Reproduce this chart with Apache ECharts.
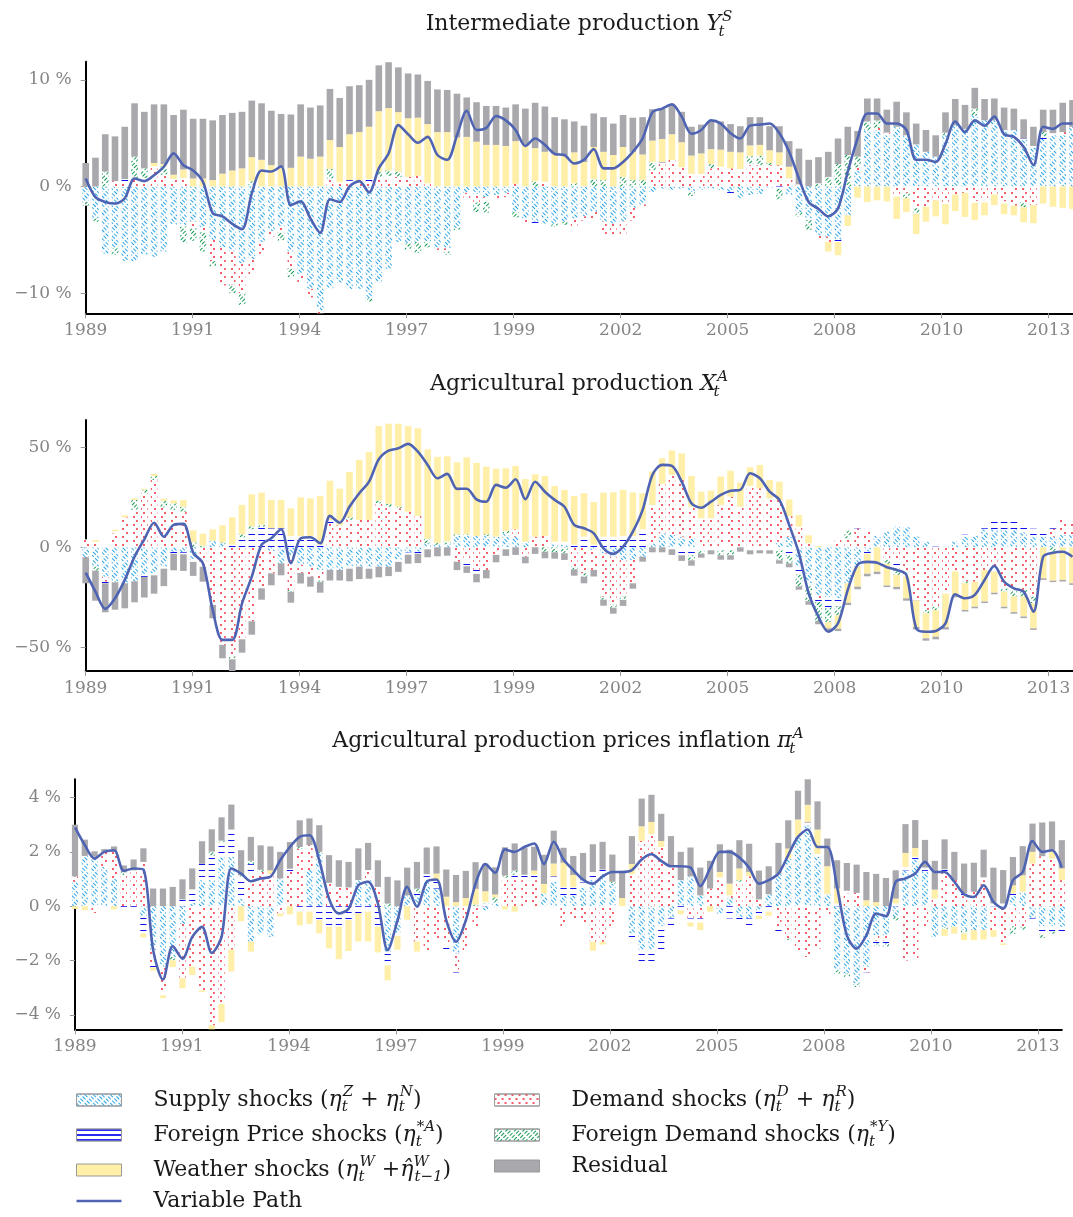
<!DOCTYPE html>
<html>
<head>
<meta charset="utf-8">
<script src="https://cdn.jsdelivr.net/npm/echarts@6/dist/echarts.min.js"></script>
<style>html,body{margin:0;padding:0;background:#fff}#c{width:1073px;height:1217px}</style>
</head>
<body>
<div id="c"></div>
<script>
// ---------- DATA (quarterly, 1989Q1 .. 2014Q2, index 0..101) ----------
const firstYear = 1989;
const quarters = [];
for (let i = 0; i < 102; i++) quarters.push((firstYear + Math.floor(i / 4)) + 'Q' + (i % 4 + 1));
const xTickLabels = ['1989','1991','1994','1997','1999','2002','2005','2008','2010','2013'];
const yTicks1 = [-10, 0, 10];
const yTicks2 = [-50, 0, 50];
const yTicks3 = [-4, -2, 0, 2, 4];

// Panel 1: Intermediate production Y_t^S (%)
const supplyY = [-1.5,-3.0,-6.3,-5.8,-7.0,-7.0,-6.4,-6.6,-6.1,-3.6,
 -3.6,-3.3,-3.8,-5.0,-5.7,-6.1,-7.2,-6.8,-5.2,-4.2,
 -3.8,-6.1,-8.2,-9.6,-11.6,-9.6,-9.0,-9.6,-9.6,-10.5,
 -9.0,-7.7,-5.2,-5.35,-5.2,-5.2,-5.8,-5.8,-3.9,-0.6,
 -0.7,-1.0,-0.8,-0.6,-2.4,-3.0,-3.3,-3.5,-3.5,-3.3,
 -3.0,-2.8,-2.4,-3.3,-3.5,-3.3,-2.0,-1.7,-0.5,-0.2,
 -0.3,-0.2,-0.5,-0.3,-0.2,-0.3,-0.5,-1.1,-0.8,-0.7,
 -0.1,0,-0.8,-2.4,-3.0,-4.6,-4.7,-5.0,-2.7,1.5,
 5.3,5.3,4.8,5.6,4.8,3.95,3.25,2.8,4.8,5.75,
 5.4,6.7,6.2,6.2,5.3,5.3,4.35,3.65,4.45,4.8,
 4.8,5.6];
const demandY = [0,0,0,0.5,0.4,0.8,0.5,1.9,1.1,0.7,
 0.8,-0.6,-0.5,-2.0,-3.6,-3.1,-2.8,-1.6,-1.1,-0.5,
 -0.5,-1.6,-0.8,-0.8,-0.3,0.6,0.4,0.4,0.5,0.5,
 0.8,0.8,0.9,0.9,1.0,0.3,-0.3,-0.3,0,-0.6,
 -0.8,-0.3,-0.4,-0.4,0.25,-0.4,0,0.45,0,0,
 -0.8,-0.4,-0.6,-1.25,-1.1,-1.25,-1.2,-0.2,1.5,2.15,
 2.5,1.8,1.2,1.2,1.7,1.85,1.7,1.5,2.0,2.0,
 2.0,2.0,0.75,0.2,0,-0.3,-0.5,0,0,0.3,
 0,0.2,0.25,-0.75,-0.6,-2.05,-1.9,-1.3,-1.45,-0.75,
 -0.6,-1.35,-1.3,-0.75,-1.4,-1.8,-1.45,-1.75,0,0,
 0.3,0];
const foreignPriceY = [0,0,0,0,0.3,0,0.3,0,0,-0.15,
 -0.15,0,0,0,-0.15,0,0,0,0,0,
 0,0,0,0,0,0.15,0,0.2,0,0.2,
 0,0.2,0,0,0,0,0,0,0,-0.15,
 0,-0.15,0,0,0,0,-0.2,-0.2,0,0,
 0,0,0,0,0,0,0,0,0,0.1,
 0,0,0,0,0,0,-0.15,0.15,0.15,0,
 0,-0.2,-0.2,0,-0.15,0,0,-0.2,0,0,
 0,0,0,-0.2,0,0,0,0,-0.2,0,
 0,-0.2,-0.2,0,-0.2,0,0.15,0.15,0.15,0.2,
 0,0];
const foreignDemandY = [-0.3,-0.3,1.4,-0.6,0,2.0,0.9,0,0.8,0,
 -1.5,-1.2,-1.8,-0.5,0,-0.8,-1.1,0.5,0,0,
 -0.8,-0.8,0,0,0,0.9,0,0,0,-0.3,
 0.6,0.5,0.5,-0.6,-1.0,-0.5,0,-0.3,-0.2,0,
 -0.9,-1.0,0,0,-0.5,0,0.5,0,-0.3,-0.3,
 0.3,0,0.7,0.6,0,0.9,0.6,0.6,0.8,0,
 0,0,-0.4,0,0.4,0,0,0,0.7,0.9,
 0.2,-1.0,0,-0.4,-0.9,0.3,0.9,2.1,2.95,1.0,
 0.8,0.7,0,0,-0.5,-0.5,0,0,0.25,0,
 0,0.6,0,0,0,0,-0.5,0,0.5,0,
 0,0];
const weatherY = [0,0,0,0,0,0,0,0.3,0.2,0.4,
 0.8,0.75,0.75,0.6,1.2,1.5,1.7,2.25,2.5,2.0,
 1.8,1.75,2.8,2.6,2.8,2.7,3.3,4.3,4.6,4.9,
 5.66,5.85,5.57,5.5,5.45,5.55,5.1,5.1,4.6,4.65,
 4.2,3.9,3.9,3.8,4.0,3.9,3.1,2.8,3.1,2.95,
 2.9,2.3,3.0,2.65,2.95,2.8,2.65,2.4,2.0,2.2,
 2.4,2.35,1.7,1.9,1.4,1.6,1.55,1.55,1.0,1.0,
 1.2,1.2,1.1,0,0,0,-0.9,-1.25,-1.0,-1.05,
 -1.45,-1.3,-1.4,-2.1,-1.3,-1.9,-1.4,-1.5,-1.9,-1.55,
 -2.25,-1.6,-1.2,-1.0,-1.0,-0.9,-1.4,-1.7,-1.6,-1.9,
 -2.0,-2.1];
const residualY = [2.2,2.7,3.5,4.2,4.9,5.0,5.3,5.5,5.6,5.6,
 5.6,5.6,5.6,5.6,5.5,5.4,5.3,5.3,5.3,5.1,
 5.0,5.0,4.9,4.8,4.8,4.8,4.6,4.5,4.4,4.4,
 4.3,4.3,4.2,4.2,4.05,4.05,4.0,3.95,4.1,3.7,
 3.7,3.65,3.65,3.6,3.45,3.4,4.25,4.25,3.4,3.35,
 2.9,3.4,3.15,3.25,2.95,3.0,3.2,3.5,2.95,2.85,
 2.7,2.85,2.7,2.7,2.6,2.65,2.6,2.45,2.65,2.6,
 2.25,2.45,2.4,3.35,2.5,2.45,2.35,2.4,2.65,2.4,
 2.15,2.05,2.15,2.35,2.15,1.95,2.05,2.0,1.9,2.45,
 2.25,1.95,2.0,2.05,2.1,2.0,1.8,1.8,2.1,2.2,
 2.75,2.5];
const pathY = [0.75,-1.0,-1.45,-1.6,-1.1,0.75,0.5,1.05,1.85,3.1,
 2.0,1.5,0.45,-2.5,-2.8,-3.5,-4.0,-0.65,1.5,1.4,
 1.9,-1.75,-1.4,-3.0,-4.35,-1.2,-1.45,0,0.5,-0.55,
 1.7,3.1,5.75,4.9,4.1,4.65,2.95,2.5,4.8,7.1,
 5.3,5.5,6.6,6.2,5.3,3.8,4.5,3.9,3.05,2.95,
 2.15,2.5,3.5,1.7,1.7,2.3,3.25,4.5,6.95,7.3,
 7.7,6.55,4.95,5.3,6.2,5.9,5.0,4.5,5.7,5.8,
 5.9,5.0,3.25,0.75,-1.45,-2.1,-2.8,-2.05,1.4,4.5,
 6.85,6.85,5.9,5.9,5.3,2.5,2.5,2.3,4.0,6.1,
 5.1,6.2,5.7,6.55,4.9,4.65,3.7,2.0,5.6,5.4,
 5.9,5.9];

// Panel 2: Agricultural production X_t^A (%)
const supplyX = [-5,-9.7,-14.7,-17,-18,-17,-13.8,-13,-9.7,-2.2,
 -2.5,-6.3,0,3.3,2,0,0,0,0,-2,
 -8,-4.7,-8.8,-9.7,-11.3,-11.3,-11.3,-9.7,-9.7,-9.7,
 -9.7,-9.7,-6.3,-2.7,-2.2,2,1.2,1.5,5.7,5.7,
 5.7,5.7,5.3,7,5.3,2.8,0,0,1.5,1.5,
 0,0,-1.3,-3,-4.7,-6.3,-6.3,-4.7,2,7,
 6.2,5.3,4.5,0,0,0,0,0,0,0,
 0,2.8,5.3,-9.7,-18,-23.8,-25,-25.5,-18,-9.7,
 -2.2,5.7,7.8,10.3,10,5.3,2.8,0.5,0.5,2.8,
 5.3,5.7,9,9,9,9,7.5,5.3,5.3,5.3,
 6.2,6.2];
const demandX = [4,2.8,-2.5,7,15,18.7,27,33.7,20,18.7,
 17.8,0,-9.7,-28.8,-48.8,-54.7,-46,-37,-20.5,-11,
 0,-16.7,-4,-5,-5.3,12,11,13.7,13.7,13.7,
 22,20.3,19.5,17.8,15.7,0,0,0,-7.2,-6.5,
 -11.3,-11.3,-3.8,0,3.7,-4.7,5.3,5.7,0,0,
 -9.7,-13,-10,-21.7,-24,-18.3,-11.7,0,18.7,24.7,
 30,28.3,15.8,14.5,14.5,21.2,25.3,20.3,30.7,29.5,
 24.5,20.8,10.3,10.3,2,-2,0,4.5,4.5,9.5,
 7.8,0,-6.3,-6.3,-14.7,-25.5,-31.3,-29.7,-22.2,-12,
 -17.2,-17.2,-11.3,-12.2,-20.5,-21.3,-21.3,-24.7,0,4,
 8.3,7.5];
const foreignPriceX = [0,0,-0.8,1.0,0,0,-1,-1,-1,-1,
 -1,-1,0,0,0,1.3,5,9,10,9.5,
 9.5,5.7,5.7,5.7,1.3,1.5,0,-1,0,-1,
 0,0,-1,-1,-1,-1,0,0,0,-3,
 -2,0,0,-1,0,0,0,0,1.3,1.3,
 1.3,5.3,1.3,5.3,5.3,5.7,5.7,9,0.5,0,
 -1,-4,-4,-1.5,-1.5,-1.5,-1.5,0,-1.5,-1.5,
 -1.5,-1.5,-4,-4,-1.5,-1.5,-5,-4,0,0.5,
 -1,0,0,-4,0,-1,0,1.3,-1,0,
 1,0,0.5,4,4,4,4,4,3.7,1,
 0,0];
const foreignDemandX = [0,-2,0,-0.5,0,5,1.7,2,3.3,3.3,
 2.5,2.5,0.8,0,0.5,-1.3,1.5,1.5,1.3,0,
 0,-0.8,0,0,-0.8,0,0,1.3,0,0,
 1.3,1.5,0.8,0,0,2.3,1.0,1.5,0.8,0.8,
 0,0.8,0,1.2,0,0,0,-2.2,-2.5,-3,
 -1.3,-1.7,0,-1.5,-1.5,-1.7,0,0,0,0,
 0,0,-2.5,-1.7,0,-2.5,-2.5,0,0,0,
 0,-5,-4,-5.8,-7.5,-9.5,-7.5,-4.5,3.8,0,
 0,0,-2,-3.5,0,0,-1.7,-1.7,0,0,
 -0.8,0,0,0,-1.7,-3.3,-3.3,-3.3,0,-2.2,
 0,0];
const weatherX = [0,0.8,0,0.8,1,0.8,0.5,1,1,1.5,
 3.3,6,6,5.7,8.5,13.7,14.7,16,16,14.2,
 14.2,13.8,19.3,18.8,24.3,19.8,18.3,22.7,30,34,
 37.3,40,41.5,42.8,43.8,44.7,43,42.5,36,38.5,
 36.5,33.8,34,31.3,31.7,31.3,31.2,30,27.8,25.8,
 24.3,21.7,21.3,22,22.2,23,21.7,18,16.7,12.8,
 12.2,13.3,15.3,13.3,13.8,14.2,13,12,9.3,11.7,
 9.2,9.2,8.3,5.8,4,0.7,-3,-6.7,-9.7,-10,
 -10,-12.2,-10.8,-6,-10.8,-13.3,-12.5,-13.3,-16.7,-12,
 -13.3,-12.5,-15.8,-10.5,-7.5,-7.8,-10,-12.5,-15.5,-14.5,
 -16.3,-18];
const residualX = [-13,-15,-14.5,-13.7,-12.5,-10.5,-10.3,-9.2,-8.7,-8.3,
 -8.3,-7,-7.5,-6.7,-6.7,-6.2,-6.7,-6.7,-5.7,-6,
 -6,-5.5,-5.3,-5,-5.3,-5.3,-5.3,-6.3,-6.2,-5,
 -5.3,-4.7,-5,-4.5,-4.7,-4,-4.5,-4.2,-4.2,-3.3,
 -4.2,-4.2,-3.7,-3.3,-3.8,-3.3,-3.3,-3.3,-3.2,-3.3,
 -3.2,-3.3,-3.3,-3,-3,-3,-2.7,-2.5,-2.5,-2.5,
 -2.8,-2.8,-2.7,-2,-2,-2.2,-2.2,-2.2,-2,-1.5,
 -1.7,-1.7,-2,-1.7,-1.7,-1.7,-1.5,-1.2,-1.2,-1.3,
 -1.3,-1.2,-0.8,-1.2,-1.2,-1.3,-1.2,-1.3,-1.2,-1,
 -0.8,-0.8,-0.8,-0.8,-0.8,-0.8,-0.8,-0.8,-0.8,-0.7,
 -0.8,-0.8];
const pathX = [-12.7,-22.2,-30.8,-25.5,-16.3,-4.7,4,12.3,5.3,11.2,
 11.7,-2.7,-8,-31.3,-46.3,-46.3,-28,-14.7,1.2,4.5,
 9,-8,4.5,5,2,15.7,12.3,20.3,27,32.8,
 44,48.3,49.5,51.7,47.8,41.2,34.5,36.7,29.2,29.3,
 24,22.8,31.2,29.8,34,24,32.8,27.8,23.7,20.3,
 11.2,9.5,7,-0.5,-3.3,0.3,7.8,18.7,36.2,41.2,
 40.7,32.8,22,19.8,22.8,26.2,28.3,28.7,37,34.5,
 27.8,23.7,11.2,-3,-23,-34.7,-42.2,-38,-21.3,-8.8,
 -7.3,-7.7,-10,-11.3,-13.8,-40.5,-42.2,-41.8,-38,-23.5,
 -25.5,-23.8,-16.3,-9.3,-17.2,-20.5,-22.2,-32.2,-4.7,-2.7,
 -2.2,-4.7];

// Panel 3: Agricultural production prices inflation pi_t^A (%)
const supplyPi = [0.9,1.85,1.82,1.45,1.0,0,0,-0.4,-1.6,-2.23,
 -1.87,-0.65,0.12,0.96,0.96,1.8,1.82,0.28,-1.3,-1.0,
 -1.13,1.02,0,0,1.33,1.94,0,0,0,0.96,
 0.96,0,-1.68,-1.0,0.4,0.4,0.96,0.65,0,-1.74,
 0,0,-0.15,0.15,0,0,0,0,0.47,0.9,
 0.4,0.4,0.68,0.96,1.2,0.83,0,-1.0,-1.6,-1.6,
 -0.74,-0.45,0.96,1.1,0.4,0,-0.27,0.3,-0.4,-0.45,
 -0.15,0.44,1.2,1.75,2.55,2.98,1.82,0.44,-2.36,-2.48,
 -2.85,-2.23,-1.07,-1.07,-0.4,1.32,1.72,1.3,-1.13,-0.76,
 -0.76,-0.88,-0.88,-0.88,0,0,0.37,0.53,-0.45,-0.74,
 -0.74,-0.76];
const demandPi = [0.2,0,-0.25,0.55,1.0,1.15,1.32,1.63,-0.5,-0.9,
 0,-2.0,-2.23,-3.1,-4.38,-3.6,-1.6,0,1.2,1.26,
 1.2,-0.27,1.26,2.12,0.92,0,0.86,0.71,0.69,0,
 0.37,0.71,0,0,0,-1.3,-1.68,-1.2,-1.4,-0.6,
 -1.68,-0.76,0,0,1.05,0.96,0.96,0.96,0,0,
 -0.76,-0.5,-0.64,-1.31,-1.31,-0.76,0,1.18,2.4,2.65,
 2.18,1.51,0,-0.45,-0.45,0.65,0.96,0.1,0.9,1.1,
 0.25,0,-0.74,-1.19,-1.62,-1.87,-1.56,-0.33,0,0.47,
 0.49,-0.22,-0.2,-0.2,0,-2.0,-1.93,-0.74,0.28,1.26,
 0.96,0.37,0.53,0.96,-0.88,-1.37,-0.74,-0.76,1.57,1.84,
 1.75,0.96];
const foreignPricePi = [0,0,0,0,0,-0.2,-0.2,-0.6,-0.15,-0.15,
 0,0.25,0.5,0.6,0.9,0.55,1.0,0.8,0.35,0,
 0,0,0.12,-0.2,-0.2,-0.5,-0.75,-0.75,-0.5,-0.25,
 -0.2,-0.75,-0.5,-0.1,0,0.1,0.22,0.3,-0.2,-0.1,
 0,0,0.1,0,0,0.2,0.2,0.2,0,0.2,
 0.3,0.3,0.2,0.3,0.15,0,0,-0.3,-0.55,-0.55,
 -0.85,-0.3,-0.15,-0.15,-0.15,0,0.1,-0.45,-0.1,-0.3,
 -0.2,-0.2,-0.3,0,0,0.1,0.1,0,0.1,0.1,
 0,-0.1,-0.1,-0.1,0.1,0.12,0.1,0.12,0,0.1,
 0,0.1,0,0.1,0.1,0.1,0.1,0,-0.1,-0.3,
 -0.2,-0.2];
const foreignDemandPi = [0,0,0,0,0,0.1,0,0,0,0,
 -0.12,0,0,0,0.15,0.06,0,0.06,0.12,0.08,
 0,0,0,0.06,0,0.06,0,0,0,0,
 0,0,0.1,0,0,0.15,0,0,0,0,
 0,0.06,0.06,0.18,0.08,0.15,0,0,0,0,
 0,0,0.08,0,0,0.07,0,0,0,0,
 0,0,0,0,0,0,0,0,0.06,0,
 0,0,0,-0.06,0,0,0,0,-0.12,-0.12,
 -0.12,0,-0.1,-0.12,-0.12,0,0,0,0,-0.08,
 0,-0.12,0,0,0,0,-0.27,-0.12,0,-0.12,
 -0.1,0];
const weatherPi = [-0.1,-0.15,0,0,-0.12,0,0,-0.15,-0.12,-0.1,
 -0.25,-0.37,-0.3,-0.06,-0.15,-0.67,-0.8,-0.55,-0.37,0,
 0.12,-0.1,-0.3,-0.5,-0.45,-0.5,-0.8,-1.2,-1.15,-1.05,
 -1.1,-0.95,-0.55,-0.5,-0.5,-0.37,0,0.25,0.35,0.15,
 0.3,0.58,0.39,0.1,-0.12,-0.2,0,0.15,0.35,0.47,
 0.9,0.45,0,-0.33,-0.1,0,0.3,0.37,0.54,0.45,
 0.22,0,-0.15,-0.15,-0.28,-0.2,0.2,0.43,0.43,0.16,
 -0.12,-0.15,0,0.37,0.64,0.65,0.9,1.03,0.55,0,
 0,0.22,0.15,0,0.18,0.52,0.32,0,0.33,-0.25,
 -0.25,-0.25,-0.37,-0.35,-0.25,-0.06,0.3,0.61,0.43,0,
 0.33,0.43];
const residualPi = [1.9,0.6,0.2,0.1,0.2,0.25,0.4,0.5,0.65,0.65,
 0.71,0.74,0.77,0.83,0.82,0.86,0.92,0.92,0.88,0.9,
 0.88,0.98,0.98,0.98,0.98,0.98,1.02,0.98,0.94,1.17,
 1.0,0.98,0.98,0.95,1.02,0.98,0.98,1.0,1.0,1.0,
 1.0,0.98,1.02,1.0,1.04,1.0,1.0,0.88,1.07,1.21,
 0.55,0.7,1.0,1.02,1.02,1.0,1.0,1.03,1.02,1.0,
 1.0,1.07,1.04,1.06,1.02,1.02,1.02,1.25,1.04,1.04,
 1.06,1.03,1.13,1.04,1.06,1.04,1.04,1.02,1.04,1.02,
 1.04,1.04,1.04,1.04,1.04,1.06,1.03,1.02,1.06,1.1,
 1.04,1.1,1.07,1.02,1.32,1.23,1.04,1.07,1.04,1.24,
 1.04,1.04];
const pathPi = [2.9,2.25,1.75,2.0,2.06,1.3,1.39,1.35,-1.62,-2.7,
 -1.47,-1.93,-1.13,-0.76,-1.72,-1.13,1.39,1.2,0.92,1.02,
 1.08,1.69,2.18,2.55,2.61,1.69,0.28,-0.27,-0.09,0.77,
 0.9,0.1,-1.62,-0.54,0.71,-0.02,0.9,0.98,-0.52,-1.31,
 -0.52,0.83,1.55,1.23,2.09,2.0,2.18,2.31,1.55,2.37,
 1.72,1.33,0.98,0.83,1.1,1.26,1.26,1.33,1.72,1.91,
 1.67,1.47,1.47,1.42,0.74,1.39,2.0,2.0,1.79,1.42,
 0.83,0.96,1.2,1.88,2.55,2.82,2.18,2.18,0.71,-1.07,
 -1.56,-1.07,-0.27,-0.37,0.9,1.02,1.2,1.63,1.26,1.26,
 0.9,0.44,0.34,0.77,0.16,-0.09,0.96,1.26,2.4,2.0,
 2.06,1.42];

// ---------- STYLE ----------
const SERIF = "'DejaVu Serif', serif";
const TXT = '#1a1a1a';
const NAMES = ['Supply shocks','Demand shocks','Foreign Price shocks','Foreign Demand shocks','Weather shocks','Residual','Variable Path'];
const TICK_STEP = 1000 / (365.25 / 4);   // ticks every 1000 days, in quarter units
const xTickValues = xTickLabels.map((_, k) => k * TICK_STEP);
const N_Q = quarters.length;

const RICH = {
  n:   {fontFamily: SERIF, fontSize: 22, lineHeight: 30, color: TXT},
  m:   {fontFamily: SERIF, fontSize: 22, lineHeight: 30, color: TXT, fontStyle: 'italic'},
  sup: {fontFamily: SERIF, fontSize: 15, lineHeight: 15, color: TXT, fontStyle: 'italic', verticalAlign: 'top'},
  sub: {fontFamily: SERIF, fontSize: 15, lineHeight: 15, color: TXT, fontStyle: 'italic', verticalAlign: 'bottom'},
  sup0:{fontFamily: SERIF, fontSize: 15, lineHeight: 15, color: TXT, fontStyle: 'italic', verticalAlign: 'top', width: 1},
  sub0:{fontFamily: SERIF, fontSize: 15, lineHeight: 15, color: TXT, fontStyle: 'italic', verticalAlign: 'bottom', width: 1},
  sp:  {fontFamily: SERIF, fontSize: 22, lineHeight: 30, width: 27}
};
const LEGEND_TEXT = {
  'Supply shocks': '{sp| }{n|Supply shocks (}{m|η}{sub0|t}{sup|Z}{n| + }{m|η}{sub0|t}{sup|N}{n|)}',
  'Demand shocks': '{sp| }{n|Demand shocks (}{m|η}{sub0|t}{sup|D}{n| + }{m|η}{sub0|t}{sup|R}{n|)}',
  'Foreign Price shocks': '{sp| }{n|Foreign Price shocks (}{m|η}{sub0|t}{sup|*A}{n|)}',
  'Foreign Demand shocks': '{sp| }{n|Foreign Demand shocks (}{m|η}{sub0|t}{sup|*Y}{n|)}',
  'Weather shocks': '{sp| }{n|Weather shocks (}{m|η}{sub0|t}{sup|W}{n| +}{m|η̂}{sup0|W}{sub|t−1}{n|)}',
  'Residual': '{sp| }{n|Residual}',
  'Variable Path': '{sp| }{n|Variable Path}'
};
const TITLES = [
  '{n|Intermediate production }{m|Y}{sub0|t}{sup|S}',
  '{n|Agricultural production }{m|X}{sub0|t}{sup|A}',
  '{n|Agricultural production prices inflation }{m|π}{sub0|t}{sup|A}'
];

const DECAL = {
  supply: {symbol: 'rect', symbolSize: 1, dashArrayX: [4, 2], dashArrayY: [1, 2], rotation: Math.PI / 4, color: '#2aa4e6'},
  demand: {symbol: 'circle', symbolSize: 1, dashArrayX: [[2, 5], [0, 3, 2, 2]], dashArrayY: [2, 2], rotation: 0, color: '#f0283a'},
  fprice: {symbol: 'rect', symbolSize: 1, dashArrayX: [1, 0], dashArrayY: [1, 5], rotation: 0, color: '#1010ee'},
  fpriceLegend: {symbol: 'rect', symbolSize: 1, dashArrayX: [1, 0], dashArrayY: [2, 3], rotation: 0, color: '#2a2af5'},
  fdemand:{symbol: 'rect', symbolSize: 1, dashArrayX: [4, 2], dashArrayY: [1, 2], rotation: -Math.PI / 4, color: '#139a52'}
};
const STYLES = [
  {color: '#ffffff', decal: DECAL.supply},
  {color: '#ffffff', decal: DECAL.demand},
  {color: '#ffffff', decal: DECAL.fprice},
  {color: '#ffffff', decal: DECAL.fdemand},
  {color: '#ffefa8'},
  {color: '#a9a9ad'}
];
const LINE_COLOR = '#4f63b3';

const PANELS = [
  {bars: [supplyY, demandY, foreignPriceY, foreignDemandY, weatherY, residualY], path: pathY,
   grid: {left: 85.7, top: 61.7, width: 986.8, height: 251.6}, ymin: -11.89, ymax: 11.70, ticks: yTicks1, bw: 6.6, titleX: 579, titleY: 24.5},
  {bars: [supplyX, demandX, foreignPriceX, foreignDemandX, weatherX, residualX], path: pathX,
   grid: {left: 85.7, top: 420, width: 986.8, height: 251}, ymin: -61.85, ymax: 63.65, ticks: yTicks2, bw: 6.6, titleX: 579, titleY: 384.5},
  {bars: [supplyPi, demandPi, foreignPricePi, foreignDemandPi, weatherPi, residualPi], path: pathPi,
   grid: {left: 75, top: 779.3, width: 986.8, height: 250}, ymin: -4.53, ymax: 4.67, ticks: yTicks3, bw: 6.2, titleX: 568, titleY: 741.5}
];

function pctLabel(v) {
  const r = Math.round(v * 100) / 100;
  return (r < 0 ? '\u2212' + (-r) : String(r)) + ' %';
}

const grids = [], xAxes = [], yAxes = [], series = [], graphics = [];
PANELS.forEach((p, g) => {
  grids.push(Object.assign({containLabel: false, outerBoundsMode: 'none'}, p.grid));
  // hidden category axis carrying the quarterly bars (boundaryGap false: quarter i at position i)
  xAxes.push({
    type: 'category', gridIndex: g, show: false, position: 'top', boundaryGap: false, data: quarters
  });
  // visible value axis in quarter units, ticks every 1000 days
  xAxes.push({
    type: 'value', gridIndex: g, position: 'bottom', min: 0, max: N_Q - 1,
    axisLine: {show: true, onZero: false, lineStyle: {color: '#000', width: 2}},
    axisTick: {show: true, customValues: xTickValues, length: 5, lineStyle: {color: '#999', width: 1}},
    axisLabel: {show: true, customValues: xTickValues, color: '#858585', fontFamily: SERIF, fontSize: 17, margin: 9,
      formatter: v => xTickLabels[Math.round(v / TICK_STEP)] || ''},
    splitLine: {show: false}
  });
  yAxes.push({
    type: 'value', gridIndex: g, min: p.ymin, max: p.ymax,
    axisLine: {show: true, onZero: false, lineStyle: {color: '#000', width: 2}},
    axisTick: {show: true, customValues: p.ticks, length: 5, lineStyle: {color: '#999', width: 1}},
    axisLabel: {show: true, customValues: p.ticks, color: '#858585', fontFamily: SERIF, fontSize: 17, margin: 14,
      formatter: pctLabel},
    splitLine: {show: false}
  });
  p.bars.forEach((arr, k) => {
    series.push({
      type: 'bar', name: NAMES[k], xAxisIndex: 2 * g, yAxisIndex: g, stack: 'stack' + g,
      stackStrategy: 'samesign',
      barWidth: p.bw, z: 2, clip: true,
      itemStyle: STYLES[k], emphasis: {disabled: true},
      data: arr.slice()
    });
  });
  series.push({
    type: 'line', name: NAMES[6], xAxisIndex: 2 * g, yAxisIndex: g, z: 5,
    smooth: 0.3, symbol: 'none', showSymbol: false, clip: true,
    lineStyle: {color: LINE_COLOR, width: 2.6}, itemStyle: {color: LINE_COLOR},
    emphasis: {disabled: true},
    data: p.path.slice()
  });
  graphics.push({
    type: 'text', x: p.titleX, y: p.titleY, silent: true,
    style: {text: TITLES[g], rich: RICH, align: 'center', verticalAlign: 'middle', fontFamily: SERIF, fontSize: 22, fill: TXT}
  });
});

function legItem(name, decal) {
  const st = {borderColor: '#9a9a9a', borderWidth: 1};
  if (decal) st.decal = decal;
  return {name: name, icon: 'rect', itemStyle: st};
}
const legendCommon = {
  orient: 'vertical', itemWidth: 45, itemHeight: 12, itemGap: 5, padding: 0, top: 1085,
  selectedMode: false, formatter: name => LEGEND_TEXT[name], symbolKeepAspect: true,
  textStyle: {fontFamily: SERIF, fontSize: 22, color: TXT, rich: RICH}
};

const option = {
  animation: false,
  backgroundColor: '#ffffff',
  grid: grids, xAxis: xAxes, yAxis: yAxes, series: series,
  graphic: {elements: graphics},
  legend: [
    Object.assign({}, legendCommon, {left: 76, data: [legItem(NAMES[0]), legItem(NAMES[2], DECAL.fpriceLegend), legItem(NAMES[4]),
      {name: NAMES[6], icon: 'path://M0,0 L45,0 L45,2.6 L0,2.6 Z', itemStyle: {color: LINE_COLOR, borderWidth: 0}}]}),
    Object.assign({}, legendCommon, {left: 494, data: [legItem(NAMES[1]), legItem(NAMES[3]), legItem(NAMES[5])]})
  ]
};

const chart = echarts.init(document.getElementById('c'), null, {renderer: 'canvas', width: 1073, height: 1217});
chart.setOption(option);
</script>
</body>
</html>
